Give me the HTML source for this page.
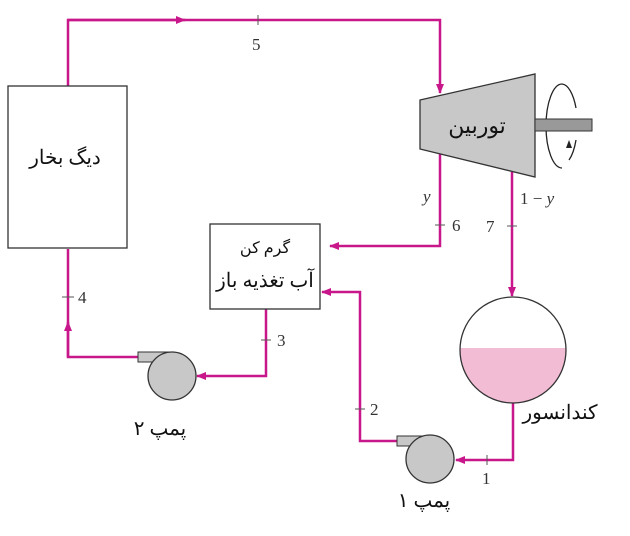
<!DOCTYPE html>
<html><head><meta charset="utf-8"><style>
body{margin:0;background:#fff}
svg text{font-family:"Liberation Serif",serif}
.fa{font-family:"Liberation Sans","Noto Sans CJK SC",sans-serif;font-size:20px}
</style></head><body>
<svg width="630" height="531" viewBox="0 0 630 531" xmlns="http://www.w3.org/2000/svg">
<defs>
<marker id="a" markerWidth="10" markerHeight="8" refX="9" refY="4" orient="auto" markerUnits="userSpaceOnUse"><path d="M0,0L10,4L0,8z" fill="#c8178a"/></marker>
<clipPath id="c"><circle cx="513" cy="350" r="53"/></clipPath>
</defs>
<g fill="none" stroke="#c8178a" stroke-width="2.5">
<path d="M68,86V20H440V93" marker-end="url(#a)"/>
<path d="M68,20H185" marker-end="url(#a)"/>
<path d="M440,149V246H330" marker-end="url(#a)"/>
<path d="M512,172V296" marker-end="url(#a)"/>
<path d="M513,403V460H456" marker-end="url(#a)"/>
<path d="M397,441H360V292H322" marker-end="url(#a)"/>
<path d="M266,309V376H197" marker-end="url(#a)"/>
<path d="M138,357H68V249"/>
<path d="M68,357V322" marker-end="url(#a)"/>
</g>
<g stroke="#555" stroke-width="1">
<path d="M258,15V25M435,225H445M507,226H517M62,297H74M261,340H271M355,409H365M487,455V465"/>
</g>
<rect x="8" y="86" width="119" height="162" fill="#fff" stroke="#333" stroke-width="1.3"/>
<rect x="210" y="224" width="110" height="85" fill="#fff" stroke="#333" stroke-width="1.3"/>
<polygon points="420,100 535,74 535,177 420,149" fill="#c8c8c8" stroke="#333" stroke-width="1.3"/>
<path d="M562,84 A16,42 0 0,0 562,168" fill="none" stroke="#222" stroke-width="1.3"/>
<rect x="535" y="119" width="57" height="12" fill="#999" stroke="#333"/>
<path d="M562,84 A16,42 0 0,1 576,108 M576,140 A16,42 0 0,1 569,160" fill="none" stroke="#222" stroke-width="1.3"/>
<path d="M566,148l3,-8 3,8z" fill="#222"/>
<circle cx="513" cy="350" r="53" fill="#fff"/>
<rect x="458" y="348" width="110" height="60" fill="#f3bcd5" clip-path="url(#c)"/>
<circle cx="513" cy="350" r="53" fill="none" stroke="#333" stroke-width="1.3"/>
<rect x="138" y="352" width="32" height="10" fill="#c8c8c8" stroke="#333"/>
<circle cx="172" cy="376" r="24" fill="#c8c8c8" stroke="#333" stroke-width="1.3"/>
<rect x="397" y="436" width="33" height="10" fill="#c8c8c8" stroke="#333"/>
<circle cx="430" cy="459" r="24" fill="#c8c8c8" stroke="#333" stroke-width="1.3"/>
<g font-size="17" fill="#333">
<text x="252" y="50">5</text>
<text x="452" y="231">6</text>
<text x="486" y="232">7</text>
<text x="423" y="202" font-style="italic">y</text>
<text x="520" y="204">1 − <tspan font-style="italic">y</tspan></text>
<text x="78" y="303">4</text>
<text x="277" y="346">3</text>
<text x="370" y="415">2</text>
<text x="482" y="484">1</text>
</g>
<g class="fa" text-anchor="middle" fill="#111">
<text x="65" y="164" direction="rtl">دیگ بخار</text>
<text x="477" y="133" direction="rtl" font-size="22">توربین</text>
<text x="265" y="253" direction="rtl" font-size="16">گرم کن</text>
<text x="265" y="287" direction="rtl">آب تغذیه باز</text>
<text x="560" y="419" direction="rtl">کندانسور</text>
<text x="424" y="507" direction="rtl">پمپ ۱</text>
<text x="160" y="435" direction="rtl">پمپ ۲</text>
</g>
</svg>
</body></html>
